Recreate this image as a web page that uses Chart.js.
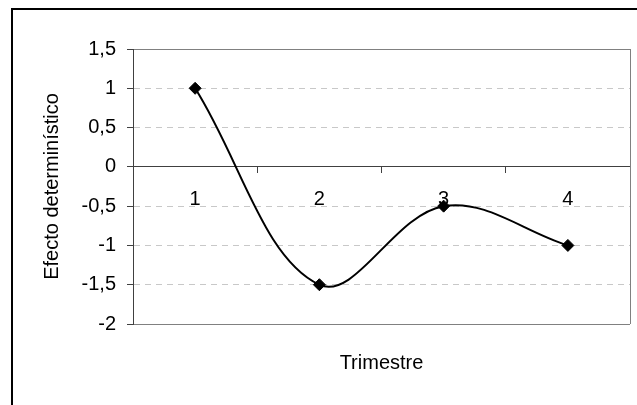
<!DOCTYPE html>
<html>
<head>
<meta charset="utf-8">
<script src="https://cdn.jsdelivr.net/npm/chart.js@4"></script>
<style>
  html, body { margin: 0; padding: 0; background: #ffffff; }
  canvas { display: block; }
</style>
</head>
<body>
<canvas id="chart" width="637" height="405"></canvas>
<script>
// Quarterly deterministic effect
const trimestres = ['1', '2', '3', '4'];
const efecto = [1, -1.5, -0.5, -1];
const yTicks = [1.5, 1, 0.5, 0, -0.5, -1, -1.5, -2];
const yTitle = 'Efecto determinístico';
const xTitle = 'Trimestre';

const FONT = { family: "'Liberation Sans', Arial, sans-serif", size: 20 };
const AXIS_DARK = '#404040';
const FRAME_GRAY = '#808080';
const GRID_LIGHT = '#c8c8c8';

const fmt = v => String(v).replace('.', ',');
const isEdge = v => v === 1.5 || v === -2;

// Outer black frame and the right edge of the plot area
const framePlugin = {
  id: 'frame',
  beforeDatasetsDraw(chart) {
    const { ctx, chartArea: a } = chart;
    ctx.save();
    ctx.strokeStyle = FRAME_GRAY;
    ctx.lineWidth = 1;
    ctx.beginPath();
    ctx.moveTo(a.right + 0.5, a.top);
    ctx.lineTo(a.right + 0.5, a.bottom);
    ctx.stroke();
    ctx.restore();
  },
  afterDraw(chart) {
    const { ctx } = chart;
    ctx.save();
    ctx.strokeStyle = '#000000';
    ctx.lineWidth = 2;
    ctx.strokeRect(12, 9, 700, 500);
    ctx.restore();
  }
};

new Chart(document.getElementById('chart'), {
  type: 'line',
  data: {
    labels: trimestres,
    datasets: [{
      data: efecto,
      borderColor: '#000000',
      borderWidth: 2,
      tension: 0.37,
      fill: false,
      pointStyle: 'rectRot',
      pointRadius: 6,
      pointBackgroundColor: '#000000',
      pointBorderColor: '#000000',
      pointBorderWidth: 1,
      xAxisID: 'x',
      yAxisID: 'y'
    }]
  },
  options: {
    responsive: false,
    animation: false,
    devicePixelRatio: 1,
    layout: { padding: { top: 49, right: 5, left: 0, bottom: 0 } },
    plugins: { legend: { display: false }, tooltip: { enabled: false } },
    scales: {
      x: {
        type: 'category',
        position: { y: 0 },
        offset: true,
        grid: {
          offset: true,
          drawOnChartArea: false,
          drawTicks: true,
          tickLength: 6,
          tickColor: AXIS_DARK,
          tickWidth: 1
        },
        border: { display: true, color: AXIS_DARK, width: 1 },
        ticks: { color: '#000000', font: FONT, padding: 15, maxRotation: 0 }
      },
      xTitle: {
        type: 'category',
        position: 'bottom',
        grid: { display: false },
        border: { display: false },
        ticks: { display: false },
        title: {
          display: true, text: xTitle, color: '#000000', font: FONT,
          padding: { top: 0, bottom: 30 }
        },
        afterFit(s) { s.height = 81; }
      },
      y: {
        type: 'linear',
        position: 'left',
        min: -2,
        max: 1.5,
        afterBuildTicks(s) { s.ticks = yTicks.map(v => ({ value: v })); },
        grid: {
          color: c => (c.tick && isEdge(c.tick.value)) ? FRAME_GRAY
                    : (c.tick && c.tick.value === 0) ? AXIS_DARK : GRID_LIGHT,
          lineWidth: 1,
          drawTicks: true,
          tickLength: 6,
          tickColor: AXIS_DARK,
          tickWidth: 1
        },
        border: {
          display: true, color: AXIS_DARK, width: 1,
          dash: c => (c.tick && !isEdge(c.tick.value) && c.tick.value !== 0) ? [6, 5] : []
        },
        ticks: { color: '#000000', font: FONT, padding: 11, callback: v => fmt(v) },
        title: {
          display: true, text: yTitle, color: '#000000', font: FONT,
          padding: { top: 40, bottom: 0 }
        },
        afterFit(s) { s.width = 133; }
      }
    }
  },
  plugins: [framePlugin]
});
</script>
</body>
</html>
